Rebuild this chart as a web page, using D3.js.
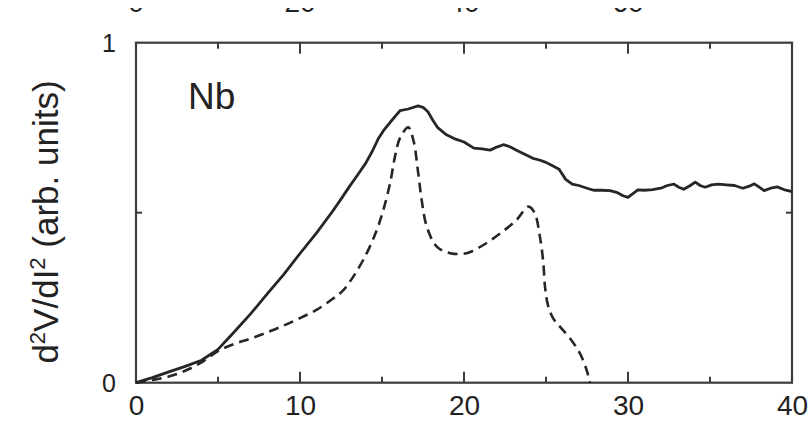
<!DOCTYPE html>
<html>
<head>
<meta charset="utf-8">
<script src="https://cdn.jsdelivr.net/npm/d3@7/dist/d3.min.js"></script>
<style>
  html, body { margin: 0; padding: 0; background: #fff; }
  svg { display: block; }
  text { font-family: "Liberation Sans", Arial, Helvetica, sans-serif; fill: #222; }
</style>
</head>
<body>
<svg id="chart" width="812" height="424"></svg>
<script>
// Bias voltage (mV) vs. second derivative, Nb junction
const solidCurve = [
  [0,0],[1,0.015],[2,0.032],[3,0.048],[4,0.066],[5,0.098],[6,0.15],[7,0.203],
  [8,0.261],[9,0.318],[10,0.38],[11,0.44],[12,0.505],[12.5,0.54],[13,0.576],
  [13.5,0.61],[14,0.645],[14.4,0.68],[14.8,0.72],[15.1,0.742],[15.5,0.766],
  [16.1,0.8],[16.6,0.805],[17.2,0.814],[17.5,0.81],[17.8,0.797],[18.1,0.772],
  [18.4,0.75],[18.9,0.73],[19.4,0.718],[20.0,0.708],[20.6,0.69],[21.1,0.688],
  [21.6,0.684],[22.0,0.693],[22.4,0.7],[22.8,0.694],[23.2,0.684],[23.7,0.672],
  [24.2,0.66],[24.6,0.655],[25.0,0.648],[25.4,0.638],[25.8,0.628],[26.2,0.598],
  [26.6,0.584],[27.0,0.58],[27.5,0.572],[27.9,0.566],[28.4,0.566],[28.9,0.565],
  [29.3,0.56],[29.7,0.55],[30.0,0.545],[30.3,0.556],[30.6,0.567],[31.0,0.566],
  [31.5,0.568],[32.0,0.572],[32.4,0.58],[32.8,0.584],[33.1,0.575],[33.4,0.569],
  [33.8,0.58],[34.1,0.59],[34.4,0.58],[34.7,0.575],[35.1,0.582],[35.5,0.584],
  [36.0,0.582],[36.5,0.58],[37.0,0.572],[37.4,0.578],[37.7,0.585],[38.0,0.575],
  [38.3,0.565],[38.7,0.572],[39.1,0.576],[39.5,0.568],[40.0,0.562]
];

const dashedCurve = [
  [0,0],[1,0.008],[2,0.018],[3,0.035],[4,0.06],[5,0.093],[6,0.114],[7,0.13],
  [8,0.148],[9,0.168],[10,0.19],[11,0.214],[12,0.247],[12.6,0.27],[13.25,0.312],
  [14.07,0.381],[14.68,0.449],[15.08,0.508],[15.49,0.586],[15.79,0.665],
  [16.1,0.72],[16.6,0.751],[16.91,0.714],[17.21,0.616],[17.42,0.537],
  [17.73,0.459],[18.34,0.4],[19.15,0.381],[20.16,0.381],[21.18,0.405],
  [22.2,0.439],[23.21,0.479],[23.92,0.518],[24.3,0.5],[24.63,0.429],
  [24.84,0.351],[24.94,0.282],[25.12,0.228],[25.43,0.19],[25.85,0.165],
  [26.46,0.131],[27.07,0.086],[27.48,0.037],[27.68,0.0]
];

const xMajorTicks = [0, 10, 20, 30, 40];
const xMinorTicks = [5, 15, 25, 35];
const yTickLabels = [0, 1];
const yMinorTicks = [0.5];
const upperPanelLabels = ["0", "20", "40", "60"];
const panelLabel = "Nb";

const svg = d3.select("#chart");
const frame = { left: 136, right: 792, top: 42.7, bottom: 382.7 };

const x = d3.scaleLinear().domain([0, 40]).range([frame.left, frame.right]);
const y = d3.scaleLinear().domain([0, 1]).range([frame.bottom, frame.top]);

const ink = "#262626";
const frameInk = "#3c3c3c";

// Tick labels of the panel above, cut off at the top edge
const defs = svg.append("defs");
defs.append("clipPath").attr("id", "upperClip")
  .append("rect").attr("x", 0).attr("y", 8).attr("width", 812).attr("height", 10);
svg.append("g").attr("clip-path", "url(#upperClip)")
  .selectAll("text").data(upperPanelLabels).join("text")
  .attr("x", (d, i) => x(xMajorTicks[i]))
  .attr("y", 12)
  .attr("text-anchor", "middle")
  .attr("font-size", 28)
  .text(d => d);

// Bottom axis labels
const bottomAxis = d3.axisBottom(x).tickValues(xMajorTicks).tickSize(0).tickPadding(12)
  .tickFormat(d3.format("d"));
const gb = svg.append("g").attr("transform", `translate(0,${frame.bottom})`).call(bottomAxis);
gb.select(".domain").remove();
gb.selectAll("text").attr("font-size", 28).attr("dy", "0.71em").attr("y", 12);

// Left axis labels
const leftAxis = d3.axisLeft(y).tickValues(yTickLabels).tickSize(0).tickPadding(20)
  .tickFormat(d3.format("d"));
const gl = svg.append("g").attr("transform", `translate(${frame.left},0)`).call(leftAxis);
gl.select(".domain").remove();
gl.selectAll("text").attr("font-size", 25).attr("dy", "0.36em");

// Tick marks on all four sides, pointing into the plot
const ticks = svg.append("g").attr("stroke", frameInk).attr("stroke-width", 2);
function xTicks(values, len) {
  values.filter(v => v > 0 && v < 40).forEach(v => {
    ticks.append("line").attr("x1", x(v)).attr("x2", x(v))
      .attr("y1", frame.bottom).attr("y2", frame.bottom - len);
    ticks.append("line").attr("x1", x(v)).attr("x2", x(v))
      .attr("y1", frame.top).attr("y2", frame.top + len);
  });
}
xTicks(xMajorTicks, 11);
xTicks(xMinorTicks, 6);
yMinorTicks.forEach(v => {
  ticks.append("line").attr("x1", frame.left).attr("x2", frame.left + 6)
    .attr("y1", y(v)).attr("y2", y(v));
  ticks.append("line").attr("x1", frame.right).attr("x2", frame.right - 6)
    .attr("y1", y(v)).attr("y2", y(v));
});

// Plot frame
svg.append("rect")
  .attr("x", frame.left).attr("y", frame.top)
  .attr("width", frame.right - frame.left).attr("height", frame.bottom - frame.top)
  .attr("fill", "none").attr("stroke", frameInk).attr("stroke-width", 2.2);

// Curves
const solidLine = d3.line().x(d => x(d[0])).y(d => y(d[1])).curve(d3.curveLinear);
svg.append("path").datum(solidCurve)
  .attr("d", solidLine)
  .attr("fill", "none").attr("stroke", ink).attr("stroke-width", 2.8)
  .attr("stroke-linejoin", "round");
const dashedLine = d3.line().x(d => x(d[0])).y(d => y(d[1])).curve(d3.curveCatmullRom.alpha(0.5));
svg.append("path").datum(dashedCurve)
  .attr("d", dashedLine)
  .attr("fill", "none").attr("stroke", ink).attr("stroke-width", 2.6)
  .attr("stroke-dasharray", "10,6");

// Panel label
svg.append("text").attr("x", 188).attr("y", 109)
  .attr("font-size", 37).text(panelLabel);

// Y-axis title
const title = svg.append("text")
  .attr("transform", "translate(58,222) rotate(-90)")
  .attr("text-anchor", "middle")
  .attr("font-size", 35);
title.append("tspan").text("d");
title.append("tspan").attr("font-size", 22).attr("dy", -13).text("2");
title.append("tspan").attr("dy", 13).text("V/dI");
title.append("tspan").attr("font-size", 22).attr("dy", -13).text("2");
title.append("tspan").attr("dy", 13).text(" (arb. units)");
</script>
</body>
</html>
